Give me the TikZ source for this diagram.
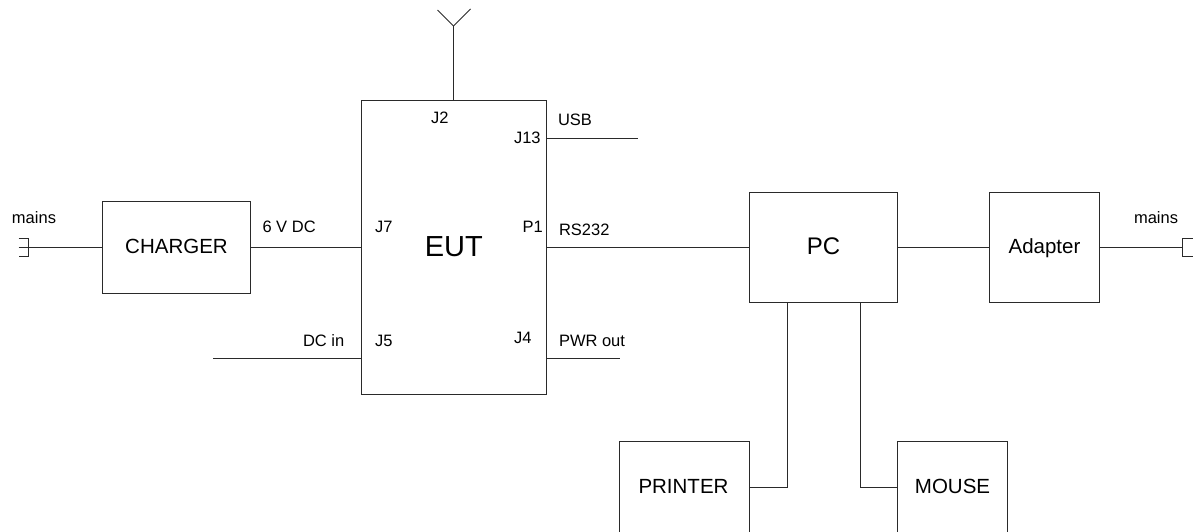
\documentclass[tikz,border=0pt]{standalone}
\usepackage{fontspec}
\setmainfont{Liberation Sans}
\newcommand{\boxat}[6]{\node[blockbox,minimum width=#4 pt,minimum height=#5 pt] (#1) at (#2,#3) {#6};}
\newcommand{\lift}[2]{\raisebox{#1pt}{#2}}
\tikzset{
  x=1pt,y=-1pt,
  blockbox/.style={draw=linecol,line width=1pt,inner sep=0pt,outer sep=0pt,text height=15pt,text depth=0pt,font=\fontsize{20.5}{24}\selectfont},
  wire/.style={draw=linecol,line width=1pt},
  lab/.style={inner sep=0pt,outer sep=0pt,font=\fontsize{16.5}{20}\selectfont,anchor=base west},
  big/.style={inner sep=0pt,outer sep=0pt,anchor=base,font=\fontsize{20.5}{24}\selectfont}
}
\definecolor{linecol}{HTML}{2A2A2A}
\begin{document}
\begin{tikzpicture}
\useasboundingbox (0,0) rectangle (1193,532);
\clip (0,0) rectangle (1193,532);
\boxat{eut}{453.75}{247.5}{184.5}{294}{\lift{-1}{\fontsize{29}{34}\selectfont EUT}}
\boxat{charger}{176.5}{247.5}{148}{92}{\lift{1.7}{CHARGER}}
\boxat{pc}{823.5}{247.5}{148}{110}{\lift{0.7}{\fontsize{24}{28}\selectfont PC}}
\boxat{adapter}{1044.5}{247.5}{110}{110}{\lift{1.7}{Adapter}}
\boxat{printer}{684.5}{501.5}{130}{120}{}
\boxat{mouse}{952.25}{501.5}{110.5}{120}{}
\node[big] (printerlabel) at (683.5,493) {PRINTER};
\node[big] (mouselabel) at (952.5,493) {MOUSE};
% labels
\node[lab] (l1) at (12,223) {mains};
\node[lab] (l2) at (1134,223) {mains};
\node[lab] (l3) at (262.5,232) {6 V DC};
\node[lab] (l4) at (375,232) {J7};
\node[lab] (l5) at (522.5,232) {P1};
\node[lab] (l6) at (559,235.5) {RS232};
\node[lab] (l7) at (431,123.5) {J2};
\node[lab] (l8) at (514,143) {J13};
\node[lab] (l9) at (558,125) {USB};
\node[lab] (l10) at (303,346.5) {DC in};
\node[lab] (l11) at (375,346) {J5};
\node[lab] (l12) at (514,343) {J4};
\node[lab] (l13) at (559,346.5) {PWR out};
% free ends
\coordinate (plugL) at (28.5,247.5);
\coordinate (plugR) at (1182.5,247.5);
\coordinate (ant) at (453.5,26);
\coordinate (usb) at (638,138.5);
\coordinate (pwr) at (619.5,358.5);
\coordinate (dcin) at (213,358.5);
\coordinate (prn) at (787,487);
\coordinate (mou) at (860.5,487);
% connectors
\draw[wire] (plugL) -- (charger.west);
\draw[wire] (charger.east) -- (eut.west);
\draw[wire] (eut.east) -- (pc.west);
\draw[wire] (pc.east) -- (adapter.west);
\draw[wire] (adapter.east) -- (plugR);
\draw[wire] (ant |- eut.north) -- (ant);
\draw[wire] (ant) -- ++(-16,-16);
\draw[wire] (ant) -- ++(17,-17);
\draw[wire] (eut.east |- usb) -- (usb);
\draw[wire] (eut.east |- pwr) -- (pwr);
\draw[wire] (eut.west |- dcin) -- (dcin);
\draw[wire] (printer.east |- prn) -- (prn) -- (prn |- pc.south);
\draw[wire] (mouse.west |- mou) -- (mou) -- (mou |- pc.south);
% plugs
\draw[wire] (18.5,238.5) -- (28.5,238.5) -- (28.5,256.5) -- (18.5,256.5);
\draw[wire] (18.5,247.5) -- (plugL);
\draw[wire] (1193,238.5) -- (1182.5,238.5) -- (1182.5,256.5) -- (1193,256.5);
\end{tikzpicture}
\end{document}
